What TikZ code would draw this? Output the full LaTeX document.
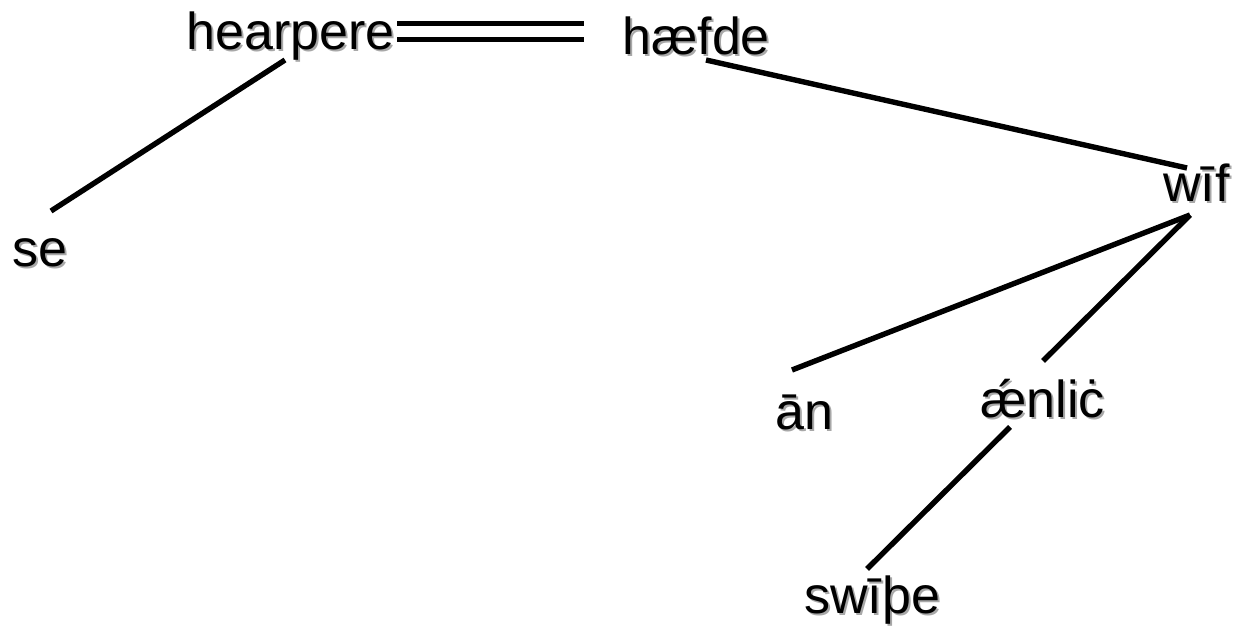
\documentclass[tikz,border=0pt]{standalone}
\usepackage{fontspec}
\setmainfont{Liberation Sans}
\definecolor{shadowgray}{HTML}{A8A8A8}
\newcommand\shadowed[1]{\rlap{\kern1pt\raisebox{-1pt}{\textcolor{shadowgray}{#1}}}#1}
\begin{document}
\begin{tikzpicture}[x=0.5pt,y=-0.5pt,
  word/.style={inner sep=0pt,anchor=base west,font=\fontsize{26}{31}\selectfont},
  branch/.style={line width=2.7pt,line cap=butt}]
\useasboundingbox (0,0) rectangle (1236,635);
\node[word] (hearpere) at (186,50) {\shadowed{hearpere}};
\node[word] (haefde) at (622,55) {\shadowed{hæfde}};
\node[word] (se) at (12,267) {\shadowed{se}};
\node[word] (wif) at (1163,202) {\shadowed{wīf}};
\node[word] (an) at (775,430) {\shadowed{ān}};
\node[word] (aenlic) at (980,418) {\shadowed{ǽnliċ}};
\node[word] (swithe) at (804,613) {\shadowed{swīþe}};
% connector ends
\coordinate (hearpere-s) at (285,60);
\coordinate (se-n) at (51,211);
\coordinate (hearpere-e1) at (397,23.5);
\coordinate (hearpere-e2) at (397,39.5);
\coordinate (haefde-w1) at (584,23.5);
\coordinate (haefde-w2) at (584,39.5);
\coordinate (haefde-s) at (706,60);
\coordinate (wif-n) at (1187,168);
\coordinate (wif-s) at (1190,215);
\coordinate (an-n) at (792,370);
\coordinate (aenlic-n) at (1043,361);
\coordinate (aenlic-s) at (1010,427);
\coordinate (swithe-n) at (867,569);
\draw[branch] (hearpere-s) -- (se-n);
\draw[branch] (hearpere-e1) -- (haefde-w1);
\draw[branch] (hearpere-e2) -- (haefde-w2);
\draw[branch] (haefde-s) -- (wif-n);
\draw[branch] (wif-s) -- (an-n);
\draw[branch] (wif-s) -- (aenlic-n);
\draw[branch] (aenlic-s) -- (swithe-n);
\end{tikzpicture}
\end{document}
